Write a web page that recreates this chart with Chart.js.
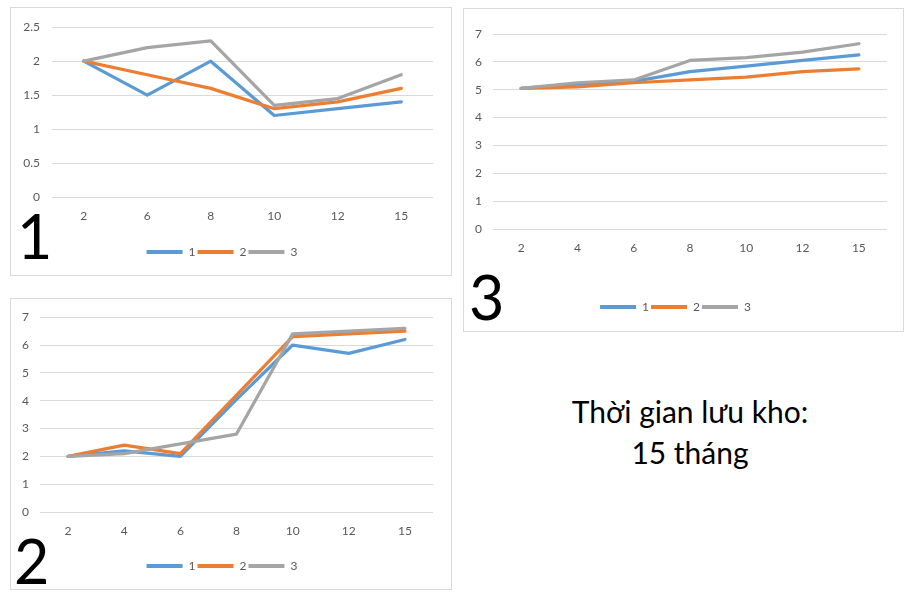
<!DOCTYPE html>
<html><head><meta charset="utf-8">
<script src="https://cdn.jsdelivr.net/npm/chart.js@4.4.1/dist/chart.umd.min.js"></script>
<style>
html,body{margin:0;padding:0;background:#fff;width:923px;height:599px;overflow:hidden;font-family:Lato,sans-serif;}
.box{position:absolute;border:1px solid #D9D9D9;box-sizing:border-box;background:#fff;}
.box canvas{display:block;}
.num{position:absolute;font-family:Lato,sans-serif;font-size:61px;line-height:1;color:#000;}
.cap{position:absolute;left:540px;top:391px;width:300px;text-align:center;font-size:30px;line-height:41px;color:#000;}
</style></head><body>
<div class="box" style="left:10px;top:7px;width:442px;height:269px"><canvas id="c1"></canvas></div>
<div class="box" style="left:10px;top:298px;width:442px;height:292px"><canvas id="c2"></canvas></div>
<div class="box" style="left:463px;top:8px;width:441px;height:324px"><canvas id="c3"></canvas></div>
<div class="num" style="left:17px;top:205px">1</div>
<div class="num" style="left:14px;top:530px">2</div>
<div class="num" style="left:469px;top:266px">3</div>
<div class="cap">Thời gian lưu kho:<br>15 tháng</div>
<script>
const seriesNames = ['1', '2', '3'];
const seriesColors = ['#5B9BD5', '#ED7D31', '#A5A5A5'];

const cats1 = ['2', '6', '8', '10', '12', '15'];
const c1s1 = [2, 1.5, 2, 1.2, 1.3, 1.4];
const c1s2 = [2, 1.8, 1.6, 1.3, 1.4, 1.6];
const c1s3 = [2, 2.2, 2.3, 1.35, 1.45, 1.8];

const cats2 = ['2', '4', '6', '8', '10', '12', '15'];
const c2s1 = [2.0, 2.2, 2.0, 4.05, 6.0, 5.7, 6.2];
const c2s2 = [2.0, 2.4, 2.1, 4.2, 6.3, 6.4, 6.5];
const c2s3 = [2.0, 2.1, 2.45, 2.8, 6.4, 6.5, 6.6];

const cats3 = ['2', '4', '6', '8', '10', '12', '15'];
const c3s1 = [5.05, 5.2, 5.3, 5.65, 5.85, 6.05, 6.25];
const c3s2 = [5.05, 5.1, 5.25, 5.35, 5.45, 5.65, 5.75];
const c3s3 = [5.05, 5.25, 5.35, 6.05, 6.15, 6.35, 6.65];

Chart.defaults.font.family = 'Lato, sans-serif';
const baseLabels = Chart.defaults.plugins.legend.labels.generateLabels;

function makeChart(id, cats, series, yMax, step, g) {
  return new Chart(document.getElementById(id), {
    type: 'line',
    data: {
      labels: cats,
      datasets: series.map((d, i) => ({
        label: seriesNames[i],
        data: d,
        borderColor: seriesColors[i],
        backgroundColor: seriesColors[i],
        borderWidth: 3.25,
        pointRadius: 0,
        borderCapStyle: 'round',
        borderJoinStyle: 'round',
        tension: 0,
        order: 3 - i
      }))
    },
    options: {
      responsive: true,
      maintainAspectRatio: false,
      animation: false,
      layout: { padding: { left: 0, right: g.right, top: g.top, bottom: g.bottom } },
      plugins: {
        legend: {
          position: 'bottom',
          labels: {
            usePointStyle: true, pointStyle: 'line', pointStyleWidth: 36, boxHeight: 12,
            color: '#595959', font: { size: 12 }, padding: 2,
            sort: (a, b) => a.datasetIndex - b.datasetIndex,
            generateLabels: chart => baseLabels(chart).map(l => Object.assign(l, { lineWidth: 4 }))
          }
        },
        tooltip: { enabled: false }
      },
      scales: {
        x: {
          offset: true,
          grid: { display: false, drawTicks: false },
          border: { display: false },
          ticks: { color: '#595959', font: { size: 12 }, padding: 12, maxRotation: 0, autoSkip: false },
          afterFit(s) { s.height = g.xh; }
        },
        y: {
          min: 0, max: yMax,
          ticks: { stepSize: step, color: '#595959', font: { size: 12 }, padding: g.yp,
                   callback: v => String(Math.round(v * 100) / 100) },
          grid: { color: '#D9D9D9', drawTicks: false, lineWidth: 1 },
          border: { display: false },
          afterFit(s) { s.width = g.yw; }
        }
      }
    }
  });
}

makeChart('c1', cats1, [c1s1, c1s2, c1s3], 2.5, 0.5, { yw: 41, yp: 12, right: 18, top: 18, xh: 47, bottom: 7 });
makeChart('c2', cats2, [c2s1, c2s2, c2s3], 7, 1, { yw: 29, yp: 11, right: 18, top: 17, xh: 46, bottom: 7 });
makeChart('c3', cats3, [c3s1, c3s2, c3s3], 7, 1, { yw: 29, yp: 11, right: 16, top: 25, xh: 70, bottom: 8 });
</script>
</body></html>
